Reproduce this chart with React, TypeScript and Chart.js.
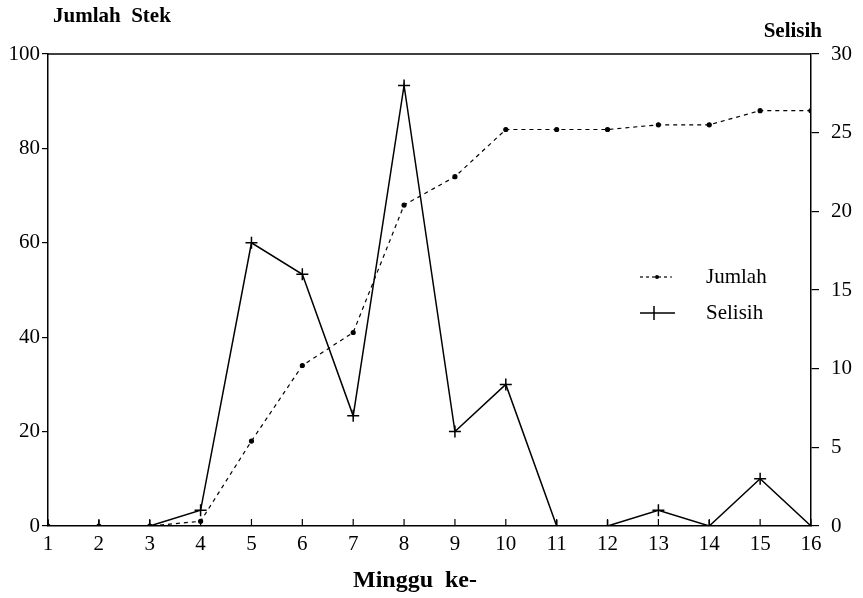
import React, { useEffect, useRef } from "react";
import { Chart, registerables } from "chart.js";

Chart.register(...registerables);

const weeks = [1, 2, 3, 4, 5, 6, 7, 8, 9, 10, 11, 12, 13, 14, 15, 16];
const jumlah = [0, 0, 0, 1, 18, 34, 41, 68, 74, 84, 84, 84, 85, 85, 88, 88];
const selisih = [0, 0, 0, 1, 18, 16, 7, 28, 6, 9, 0, 0, 1, 0, 3, 0];
const leftTickStep = 20;
const rightTickStep = 5;

const leftTitle = "Jumlah  Stek";
const rightTitle = "Selisih";
const xTitle = "Minggu  ke-";
const legendJumlah = "Jumlah";
const legendSelisih = "Selisih";

const SERIF = '"Liberation Serif", "DejaVu Serif", serif';

const decor = {
  id: "decor",
  afterDraw(chart: any) {
    const { ctx, chartArea: a, scales } = chart;
    ctx.save();
    ctx.strokeStyle = "#000";
    ctx.lineWidth = 1.5;
    ctx.beginPath();
    ctx.moveTo(a.left, a.top);
    ctx.lineTo(a.right, a.top);
    ctx.stroke();

    const xs = scales.x;
    ctx.lineWidth = 1.2;
    weeks.forEach((v) => {
      const px = xs.getPixelForValue(v);
      ctx.beginPath();
      ctx.moveTo(px, a.bottom);
      ctx.lineTo(px, a.bottom - 7);
      ctx.stroke();
    });

    ctx.fillStyle = "#000";
    ctx.textBaseline = "alphabetic";
    ctx.font = `bold 21px ${SERIF}`;
    ctx.textAlign = "left";
    ctx.fillText(leftTitle, 53, 22);
    ctx.textAlign = "right";
    ctx.fillText(rightTitle, 822, 37);
    ctx.font = `bold 24px ${SERIF}`;
    ctx.textAlign = "center";
    ctx.fillText(xTitle, 415, 587);

    // legend
    ctx.font = `21px ${SERIF}`;
    ctx.textAlign = "left";
    ctx.textBaseline = "middle";
    ctx.lineWidth = 1.2;
    ctx.setLineDash([3, 3]);
    ctx.beginPath();
    ctx.moveTo(640, 277);
    ctx.lineTo(672, 277);
    ctx.stroke();
    ctx.setLineDash([]);
    ctx.beginPath();
    ctx.arc(657, 277, 2, 0, Math.PI * 2);
    ctx.fill();
    ctx.fillText(legendJumlah, 706, 277);

    ctx.lineWidth = 1.5;
    ctx.beginPath();
    ctx.moveTo(640, 313);
    ctx.lineTo(675, 313);
    ctx.moveTo(654, 306);
    ctx.lineTo(654, 320);
    ctx.stroke();
    ctx.fillText(legendSelisih, 706, 313);
    ctx.restore();
  },
};

export default function App() {
  const ref = useRef<HTMLCanvasElement | null>(null);

  useEffect(() => {
    if (!ref.current) return;
    const chart = new Chart(ref.current, {
      type: "line",
      data: {
        datasets: [
          {
            label: legendJumlah,
            data: weeks.map((w, i) => ({ x: w, y: jumlah[i] })),
            yAxisID: "y",
            borderColor: "#000",
            backgroundColor: "#000",
            borderWidth: 1.2,
            borderDash: [4, 4],
            pointRadius: 2,
            pointStyle: "circle",
            tension: 0,
          },
          {
            label: legendSelisih,
            data: weeks.map((w, i) => ({ x: w, y: selisih[i] })),
            yAxisID: "y1",
            borderColor: "#000",
            backgroundColor: "#000",
            borderWidth: 1.5,
            pointRadius: 6,
            pointStyle: "cross",
            pointBorderWidth: 1.5,
            tension: 0,
          },
        ],
      },
      options: {
        animation: false,
        responsive: false,
        layout: { padding: { top: 54, left: 0, right: 0, bottom: 0 } },
        plugins: { legend: { display: false }, tooltip: { enabled: false } },
        scales: {
          x: {
            type: "linear",
            min: 1,
            max: 16,
            grid: { display: false, drawTicks: false },
            border: { display: true, color: "#000", width: 1.5 },
            ticks: {
              stepSize: 1,
              color: "#000",
              font: { family: SERIF, size: 21 },
              padding: 6,
            },
            afterFit: (s: any) => {
              s.height = 72;
            },
          },
          y: {
            position: "left",
            min: 0,
            max: 100,
            grid: { drawOnChartArea: false, color: "#000", tickLength: 6, lineWidth: 1.2 },
            border: { display: true, color: "#000", width: 1.5 },
            ticks: {
              stepSize: leftTickStep,
              color: "#000",
              font: { family: SERIF, size: 21 },
              padding: 2,
            },
            afterFit: (s: any) => {
              s.width = 48;
            },
          },
          y1: {
            position: "right",
            min: 0,
            max: 30,
            grid: { drawOnChartArea: false, color: "#000", tickLength: 8, lineWidth: 1.2 },
            border: { display: true, color: "#000", width: 1.5 },
            ticks: {
              stepSize: rightTickStep,
              color: "#000",
              font: { family: SERIF, size: 21 },
              padding: 12,
            },
            afterFit: (s: any) => {
              s.width = 52;
            },
          },
        },
      },
      plugins: [decor],
    });
    return () => chart.destroy();
  }, []);

  return (
    <div style={{ position: "fixed", left: 0, top: 0, width: 863, height: 598, background: "#fff" }}>
      <canvas ref={ref} width={863} height={598} />
    </div>
  );
}
